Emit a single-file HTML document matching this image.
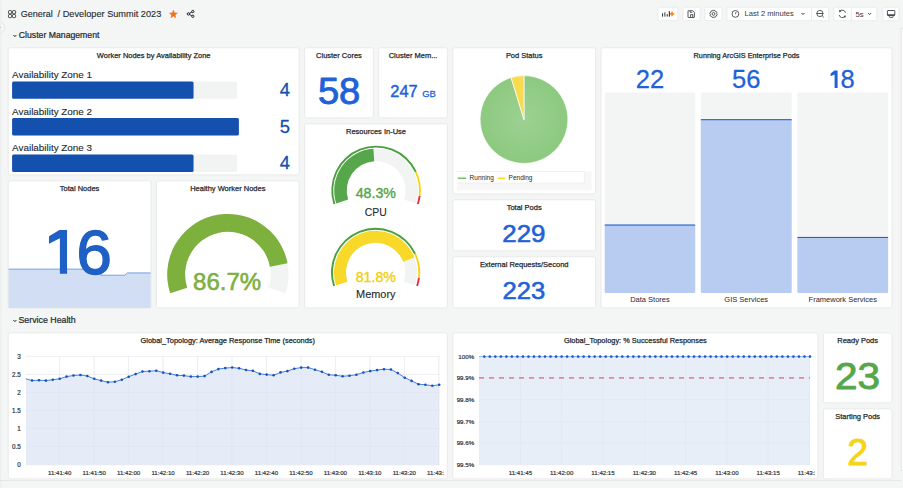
<!DOCTYPE html>
<html><head><meta charset="utf-8"><title>Developer Summit 2023 - Grafana</title>
<style>
html,body{margin:0;padding:0;width:903px;height:488px;overflow:hidden;background:#F4F5F5;}
svg{display:block;font-family:"Liberation Sans", sans-serif;}
</style></head>
<body>
<svg width="903" height="488" viewBox="0 0 903 488">
<rect x="0" y="0" width="903" height="488" fill="#F4F5F5"/>
<circle cx="-1.2" cy="27.3" r="5.8" fill="#F7F8F8" stroke="#DADDDE" stroke-width="0.7"/>
<line x1="0" y1="27.3" x2="1.2" y2="27.3" stroke="#464C54" stroke-width="0.8"/>
<line x1="0.8" y1="0" x2="0.8" y2="488" stroke="#ECEEEE" stroke-width="1"/>
<rect x="8.5" y="10.6" width="3.1" height="3.1" rx="0.9" fill="none" stroke="#33383D" stroke-width="1.0"/>
<rect x="12.5" y="10.6" width="3.1" height="3.1" rx="0.9" fill="none" stroke="#33383D" stroke-width="1.0"/>
<rect x="8.5" y="14.5" width="3.1" height="3.1" rx="0.9" fill="none" stroke="#33383D" stroke-width="1.0"/>
<rect x="12.5" y="14.5" width="3.1" height="3.1" rx="0.9" fill="none" stroke="#33383D" stroke-width="1.0"/>
<text x="20.80" y="17.00" font-size="9" font-weight="400" fill="#24292E" text-anchor="start" stroke="#24292E" stroke-width="0.12" stroke-linejoin="round" >General</text>
<text x="57.60" y="17.00" font-size="9.2" font-weight="400" fill="#24292E" text-anchor="start" stroke="#24292E" stroke-width="0.12" stroke-linejoin="round" >/ Developer Summit 2023</text>
<polygon points="173.40,10.25 174.43,12.93 177.30,13.08 175.06,14.89 175.81,17.67 173.40,16.10 170.99,17.67 171.74,14.89 169.50,13.08 172.37,12.93" fill="#F27318" stroke="#F27318" stroke-width="0.6" stroke-linejoin="round"/>
<g fill="none" stroke="#1F2328" stroke-width="1.0"><circle cx="188.4" cy="13.9" r="1.2"/><circle cx="192.8" cy="11.5" r="1.15"/><circle cx="192.8" cy="16.3" r="1.15"/><line x1="189.5" y1="13.3" x2="191.8" y2="12.1"/><line x1="189.5" y1="14.5" x2="191.8" y2="15.7"/></g>
<rect x="658.00" y="7.20" width="19.80" height="13.50" rx="1.5" fill="#FFFFFF" stroke="#E6E8E9" stroke-width="0.8"/>
<rect x="683.00" y="7.20" width="17.10" height="13.50" rx="1.5" fill="#FFFFFF" stroke="#E6E8E9" stroke-width="0.8"/>
<rect x="705.00" y="7.20" width="17.00" height="13.50" rx="1.5" fill="#FFFFFF" stroke="#E6E8E9" stroke-width="0.8"/>
<rect x="726.90" y="7.20" width="101.70" height="13.50" rx="1.5" fill="#FFFFFF" stroke="#E6E8E9" stroke-width="0.8"/>
<line x1="811.5" y1="7.2" x2="811.5" y2="20.7" stroke="#E6E8E9" stroke-width="0.8"/>
<rect x="833.90" y="7.20" width="42.90" height="13.50" rx="1.5" fill="#FFFFFF" stroke="#E6E8E9" stroke-width="0.8"/>
<line x1="851.4" y1="7.2" x2="851.4" y2="20.7" stroke="#E6E8E9" stroke-width="0.8"/>
<rect x="882.80" y="7.20" width="16.10" height="13.50" rx="1.5" fill="#FFFFFF" stroke="#E6E8E9" stroke-width="0.8"/>
<g fill="#3A3F45"><rect x="662.0" y="13.2" width="1.1" height="3.5" rx="0.4"/><rect x="664.2" y="12.2" width="1.3" height="4.5" rx="0.4" opacity="0.8"/><rect x="666.7" y="14.1" width="1.1" height="2.6" rx="0.4"/><rect x="668.8" y="11.0" width="1.2" height="5.7" rx="0.4"/></g>
<g stroke="#FF8A1E" stroke-width="1.7" stroke-linecap="round"><line x1="670.6" y1="13.9" x2="673.5" y2="13.9"/><line x1="672.05" y1="12.3" x2="672.05" y2="15.5"/></g>
<g fill="none" stroke="#3A3F45" stroke-width="0.85"><path d="M688.4,10.7 h4.4 l1.6,1.6 v4.8 q0,0.4 -0.4,0.4 h-5.6 q-0.4,0 -0.4,-0.4 v-6 q0,-0.4 0.4,-0.4 z"/><path d="M690.6,17.4 v-2.8 h2.2 v2.8"/><path d="M690.2,11 v1.3 h2.1"/></g>
<polygon points="717.17,14.38 716.92,15.32 715.96,15.79 715.75,16.84 714.92,17.32 713.90,16.97 713.02,17.57 712.08,17.32 711.61,16.36 710.56,16.15 710.08,15.32 710.43,14.30 709.83,13.42 710.08,12.48 711.04,12.01 711.25,10.96 712.08,10.48 713.10,10.83 713.98,10.23 714.92,10.48 715.39,11.44 716.44,11.65 716.92,12.48 716.57,13.50" fill="none" stroke="#3A3F45" stroke-width="0.85" stroke-linejoin="round"/>
<circle cx="713.5" cy="13.9" r="1.4" fill="none" stroke="#3A3F45" stroke-width="0.85"/>
<g fill="none" stroke="#3A3F45" stroke-width="0.85"><circle cx="735.4" cy="13.9" r="3.4"/><line x1="735.4" y1="14.2" x2="736.1" y2="12.0"/></g>
<text x="744.50" y="16.45" font-size="7.6" font-weight="400" fill="#3D4248" text-anchor="start" stroke="#3D4248" stroke-width="0.05" stroke-linejoin="round" >Last 2 minutes</text>
<path d="M801.5,13.0 l1.5,1.5 l1.5,-1.5" fill="none" stroke="#3A3F45" stroke-width="1.0"/>
<g fill="none" stroke="#3A3F45" stroke-width="0.85"><circle cx="819.9" cy="13.5" r="3.1"/><line x1="816.6" y1="13.5" x2="823.2" y2="13.5"/><line x1="822.2" y1="15.8" x2="823.8" y2="17.4"/></g>
<g fill="none" stroke="#3A3F45" stroke-width="0.85"><path d="M839.6,11.2 a3.5,3.5 0 0 1 5.9,1.6"/><path d="M845.0,16.6 a3.5,3.5 0 0 1 -5.9,-1.6"/></g>
<g fill="#3A3F45"><path d="M839.0,10.0 l2.4,0.9 l-1.9,1.6 z"/><path d="M845.8,17.6 l-2.4,-0.9 l1.9,-1.6 z"/></g>
<text x="855.50" y="16.60" font-size="7.7" font-weight="400" fill="#3D4248" text-anchor="start" stroke="#3D4248" stroke-width="0.05" stroke-linejoin="round" >5s</text>
<path d="M868.1,13.1 l1.5,1.5 l1.5,-1.5" fill="none" stroke="#3A3F45" stroke-width="1.0"/>
<g fill="none" stroke="#3A3F45" stroke-width="0.9"><rect x="887.4" y="10.5" width="7.4" height="5.0" rx="0.6"/><path d="M889.3,15.6 v0.9 q0,0.9 0.9,0.9 h2.0 q0.9,0 0.9,-0.9 v-0.9"/></g>
<rect x="887.4" y="14.3" width="7.4" height="1.2" fill="#3A3F45"/>
<rect x="901.2" y="28.3" width="3" height="442" fill="#FFFFFF" stroke="#E0E2E3" stroke-width="0.9"/>
<line x1="0" y1="480.5" x2="901" y2="480.5" stroke="#E3E5E6" stroke-width="0.9"/>
<path d="M13.4,35.0 l1.5,1.6 l1.5,-1.6" fill="none" stroke="#24292E" stroke-width="1.0"/>
<text x="18.80" y="37.70" font-size="8.7" font-weight="400" fill="#24292E" text-anchor="start" stroke="#24292E" stroke-width="0.22" stroke-linejoin="round" >Cluster Management</text>
<path d="M13.4,320.0 l1.5,1.6 l1.5,-1.6" fill="none" stroke="#24292E" stroke-width="1.0"/>
<text x="18.50" y="322.70" font-size="8.8" font-weight="400" fill="#24292E" text-anchor="start" stroke="#24292E" stroke-width="0.22" stroke-linejoin="round" >Service Health</text>
<rect x="8.20" y="47.80" width="291.00" height="127.10" rx="2" fill="#FFFFFF" stroke="#E6E8E9" stroke-width="0.9"/>
<text x="153.70" y="58.00" font-size="7.49" font-weight="400" fill="#24292E" text-anchor="middle" stroke="#24292E" stroke-width="0.25" stroke-linejoin="round" >Worker Nodes by Availability Zone</text>
<text x="12.10" y="78.00" font-size="9.9" font-weight="400" fill="#24292E" text-anchor="start" stroke="#24292E" stroke-width="0.12" stroke-linejoin="round" >Availability Zone 1</text>
<rect x="12.1" y="81.40" width="225.0" height="17.4" rx="1.5" fill="#F2F3F3"/>
<rect x="12.1" y="81.40" width="181.44" height="17.4" rx="1.5" fill="#1450AE"/>
<text x="289.90" y="96.00" font-size="18.4" font-weight="400" fill="#1450AE" text-anchor="end" stroke="#1450AE" stroke-width="0.3" stroke-linejoin="round" >4</text>
<text x="12.10" y="114.60" font-size="9.9" font-weight="400" fill="#24292E" text-anchor="start" stroke="#24292E" stroke-width="0.12" stroke-linejoin="round" >Availability Zone 2</text>
<rect x="12.1" y="118.00" width="225.0" height="17.4" rx="1.5" fill="#F2F3F3"/>
<rect x="12.1" y="118.00" width="226.80" height="17.4" rx="1.5" fill="#1450AE"/>
<text x="289.90" y="132.60" font-size="18.4" font-weight="400" fill="#1450AE" text-anchor="end" stroke="#1450AE" stroke-width="0.3" stroke-linejoin="round" >5</text>
<text x="12.10" y="151.20" font-size="9.9" font-weight="400" fill="#24292E" text-anchor="start" stroke="#24292E" stroke-width="0.12" stroke-linejoin="round" >Availability Zone 3</text>
<rect x="12.1" y="154.60" width="225.0" height="17.4" rx="1.5" fill="#F2F3F3"/>
<rect x="12.1" y="154.60" width="181.44" height="17.4" rx="1.5" fill="#1450AE"/>
<text x="289.90" y="169.20" font-size="18.4" font-weight="400" fill="#1450AE" text-anchor="end" stroke="#1450AE" stroke-width="0.3" stroke-linejoin="round" >4</text>
<rect x="304.60" y="47.80" width="68.70" height="70.10" rx="2" fill="#FFFFFF" stroke="#E6E8E9" stroke-width="0.9"/>
<text x="338.95" y="58.00" font-size="7.49" font-weight="400" fill="#24292E" text-anchor="middle" stroke="#24292E" stroke-width="0.25" stroke-linejoin="round" >Cluster Cores</text>
<g transform="translate(339.10,104.00) scale(1.06,1)"><text x="0" y="0" font-size="36.0" font-weight="400" fill="#1F62D8" text-anchor="middle" stroke="#1F62D8" stroke-width="0.9" stroke-linejoin="round" >58</text></g>
<rect x="378.70" y="47.80" width="68.70" height="70.10" rx="2" fill="#FFFFFF" stroke="#E6E8E9" stroke-width="0.9"/>
<text x="413.05" y="58.00" font-size="7.49" font-weight="400" fill="#24292E" text-anchor="middle" stroke="#24292E" stroke-width="0.25" stroke-linejoin="round" >Cluster Mem...</text>
<text x="390.30" y="96.50" font-size="16.4" font-weight="400" fill="#1F62D8" text-anchor="start" stroke="#1F62D8" stroke-width="0.45" stroke-linejoin="round" >247</text>
<text x="422.20" y="96.50" font-size="9.4" font-weight="400" fill="#1F62D8" text-anchor="start" stroke="#1F62D8" stroke-width="0.3" stroke-linejoin="round" >GB</text>
<rect x="452.80" y="47.80" width="142.80" height="146.10" rx="2" fill="#FFFFFF" stroke="#E6E8E9" stroke-width="0.9"/>
<text x="524.20" y="58.00" font-size="7.49" font-weight="400" fill="#24292E" text-anchor="middle" stroke="#24292E" stroke-width="0.25" stroke-linejoin="round" >Pod Status</text>
<defs><radialGradient id="pg" cx="50%" cy="50%" r="50%"><stop offset="0" stop-color="#9DD192"/><stop offset="1" stop-color="#8DC97F"/></radialGradient><radialGradient id="py" cx="50%" cy="50%" r="50%"><stop offset="0" stop-color="#FBE05A"/><stop offset="1" stop-color="#F8DA4A"/></radialGradient></defs>
<path d="M524.0,119.5 L524.0,75.6 A43.9,43.9 0 1 1 511.09,77.54 Z" fill="url(#pg)" stroke="#fff" stroke-width="0.7"/>
<path d="M524.0,119.5 L511.09,77.54 A43.9,43.9 0 0 1 524.0,75.6 Z" fill="#F8DB4E" stroke="#fff" stroke-width="0.7"/>
<rect x="456.8" y="183.1" width="134.8" height="7.2" fill="#F7F7F8"/>
<rect x="584.4" y="171.5" width="7.2" height="11.6" fill="#F7F7F8"/>
<path d="M456.8,171.5 H584.4 V183.1 H456.8" fill="none" stroke="#ECEDEE" stroke-width="0.8"/>
<line x1="458.4" y1="178.3" x2="465.6" y2="178.3" stroke="#73BF69" stroke-width="1.6" stroke-linecap="round"/>
<text x="469.60" y="180.40" font-size="6.5" font-weight="400" fill="#24292E" text-anchor="start" >Running</text>
<line x1="498.3" y1="178.3" x2="504.6" y2="178.3" stroke="#FADE2A" stroke-width="1.6" stroke-linecap="round"/>
<text x="508.60" y="180.40" font-size="6.5" font-weight="400" fill="#24292E" text-anchor="start" >Pending</text>
<rect x="601.00" y="47.80" width="291.00" height="260.10" rx="2" fill="#FFFFFF" stroke="#E6E8E9" stroke-width="0.9"/>
<text x="746.50" y="58.00" font-size="7.276" font-weight="400" fill="#24292E" text-anchor="middle" stroke="#24292E" stroke-width="0.25" stroke-linejoin="round" >Running ArcGIS Enterprise Pods</text>
<rect x="604.7" y="92.5" width="90.5" height="200.5" rx="1.5" fill="#F3F4F4"/>
<rect x="604.7" y="224.82" width="90.5" height="68.18" rx="1" fill="#B8CCF2"/>
<rect x="604.7" y="224.52" width="90.5" height="1.05" fill="#1A5CD0"/>
<text x="649.95" y="88.30" font-size="25.5" font-weight="400" fill="#1F62D8" text-anchor="middle" stroke="#1F62D8" stroke-width="0.3" stroke-linejoin="round" >22</text>
<text x="649.95" y="301.60" font-size="7.5" font-weight="400" fill="#24292E" text-anchor="middle" >Data Stores</text>
<rect x="700.8" y="92.5" width="90.9" height="200.5" rx="1.5" fill="#F3F4F4"/>
<rect x="700.8" y="119.46" width="90.9" height="173.54" rx="1" fill="#B8CCF2"/>
<rect x="700.8" y="119.16" width="90.9" height="1.05" fill="#1A5CD0"/>
<text x="746.25" y="88.30" font-size="25.5" font-weight="400" fill="#1F62D8" text-anchor="middle" stroke="#1F62D8" stroke-width="0.3" stroke-linejoin="round" >56</text>
<text x="746.25" y="301.60" font-size="7.5" font-weight="400" fill="#24292E" text-anchor="middle" >GIS Services</text>
<rect x="797.4" y="92.5" width="90.7" height="200.5" rx="1.5" fill="#F3F4F4"/>
<rect x="797.4" y="237.22" width="90.7" height="55.78" rx="1" fill="#B8CCF2"/>
<rect x="797.4" y="236.92" width="90.7" height="1.05" fill="#1A5CD0"/>
<polygon points="834.4,70.4 837.6,70.4 837.6,88.1 834.6,88.1 834.6,74.4 830.6,76.3 830.6,73.5" fill="#1F62D8"/>
<text x="840.60" y="88.30" font-size="25.5" font-weight="400" fill="#1F62D8" text-anchor="start" stroke="#1F62D8" stroke-width="0.3" stroke-linejoin="round" >8</text>
<text x="842.75" y="301.60" font-size="7.5" font-weight="400" fill="#24292E" text-anchor="middle" >Framework Services</text>
<rect x="304.60" y="123.80" width="142.80" height="184.10" rx="2" fill="#FFFFFF" stroke="#E6E8E9" stroke-width="0.9"/>
<text x="376.00" y="134.00" font-size="7.49" font-weight="400" fill="#24292E" text-anchor="middle" stroke="#24292E" stroke-width="0.25" stroke-linejoin="round" >Resources In-Use</text>
<path d="M336.25,203.45 A41.9,41.9 0 1 1 415.95,203.45 L404.06,199.59 A29.4,29.4 0 1 0 348.14,199.59 Z" fill="#F2F3F3"/>
<path d="M336.25,203.45 A41.9,41.9 0 0 1 373.42,148.69 L374.22,161.16 A29.4,29.4 0 0 0 348.14,199.59 Z" fill="#56A64B"/>
<path d="M333.49,204.34 A44.8,44.8 0 0 1 416.64,171.43 L414.92,172.23 A42.9,42.9 0 0 0 335.30,203.76 Z" fill="#48A03C"/>
<path d="M416.64,171.43 A44.8,44.8 0 0 1 420.55,196.11 L418.66,195.88 A42.9,42.9 0 0 0 414.92,172.23 Z" fill="#F6D414"/>
<path d="M420.55,196.11 A44.8,44.8 0 0 1 418.71,204.34 L416.90,203.76 A42.9,42.9 0 0 0 418.66,195.88 Z" fill="#E02F44"/>
<text x="375.80" y="198.40" font-size="14.2" font-weight="400" fill="#56A64B" text-anchor="middle" stroke="#56A64B" stroke-width="0.4" stroke-linejoin="round" >48.3%</text>
<text x="375.80" y="215.50" font-size="10.4" font-weight="400" fill="#24292E" text-anchor="middle" stroke="#24292E" stroke-width="0.12" stroke-linejoin="round" >CPU</text>
<path d="M336.04,285.36 A41.6,41.6 0 1 1 415.16,285.36 L403.75,281.65 A29.6,29.6 0 1 0 347.45,281.65 Z" fill="#F2F3F3"/>
<path d="M336.04,285.36 A41.6,41.6 0 0 1 414.36,257.38 L403.18,261.74 A29.6,29.6 0 0 0 347.45,281.65 Z" fill="#F8D92A"/>
<path d="M333.18,286.28 A44.6,44.6 0 0 1 415.96,253.51 L414.24,254.32 A42.7,42.7 0 0 0 334.99,285.70 Z" fill="#48A03C"/>
<path d="M415.96,253.51 A44.6,44.6 0 0 1 419.85,278.09 L417.96,277.85 A42.7,42.7 0 0 0 414.24,254.32 Z" fill="#F6D414"/>
<path d="M419.85,278.09 A44.6,44.6 0 0 1 418.02,286.28 L416.21,285.70 A42.7,42.7 0 0 0 417.96,277.85 Z" fill="#E02F44"/>
<text x="375.80" y="281.50" font-size="14.2" font-weight="400" fill="#F4CF0A" text-anchor="middle" stroke="#F4CF0A" stroke-width="0.4" stroke-linejoin="round" >81.8%</text>
<g transform="translate(375.80,298.10) scale(1.04,1)"><text x="0" y="0" font-size="10.5" font-weight="400" fill="#24292E" text-anchor="middle" stroke="#24292E" stroke-width="0.12" stroke-linejoin="round" >Memory</text></g>
<rect x="8.20" y="180.80" width="142.80" height="127.10" rx="2" fill="#FFFFFF" stroke="#E6E8E9" stroke-width="0.9"/>
<text x="79.60" y="191.00" font-size="7.49" font-weight="400" fill="#24292E" text-anchor="middle" stroke="#24292E" stroke-width="0.25" stroke-linejoin="round" >Total Nodes</text>
<path d="M8.60,269.10 L99.00,269.10 L101.00,275.20 L124.90,275.20 L127.30,272.90 L150.60,272.90 L150.60,308.10 L8.60,308.10 Z" fill="#D1DEF3"/>
<path d="M8.60,269.10 L99.00,269.10 L101.00,275.20 L124.90,275.20 L127.30,272.90 L150.60,272.90" fill="none" stroke="#5A8FE0" stroke-width="0.8"/>
<polygon points="59.4,229.9 67.05,229.9 67.05,273.8 59.9,273.8 59.9,238.3 49.0,243.8 49.0,236.2" fill="#1F60C4"/>
<text x="76.40" y="273.80" font-size="63.5" font-weight="400" fill="#1F60C4" text-anchor="start" stroke="#1F60C4" stroke-width="1.5" stroke-linejoin="round" >6</text>
<rect x="156.40" y="180.80" width="142.80" height="127.10" rx="2" fill="#FFFFFF" stroke="#E6E8E9" stroke-width="0.9"/>
<text x="227.80" y="191.00" font-size="7.49" font-weight="400" fill="#24292E" text-anchor="middle" stroke="#24292E" stroke-width="0.25" stroke-linejoin="round" >Healthy Worker Nodes</text>
<path d="M170.17,293.36 A60.7,60.7 0 1 1 285.63,293.36 L268.61,287.83 A42.8,42.8 0 1 0 187.19,287.83 Z" fill="#F2F3F3"/>
<path d="M170.17,293.36 A60.7,60.7 0 1 1 287.54,263.30 L269.95,266.63 A42.8,42.8 0 1 0 187.19,287.83 Z" fill="#7EB03E"/>
<text x="227.10" y="289.50" font-size="24.0" font-weight="400" fill="#7EB03E" text-anchor="middle" stroke="#7EB03E" stroke-width="0.6" stroke-linejoin="round" >86.7%</text>
<rect x="452.80" y="199.80" width="142.80" height="51.10" rx="2" fill="#FFFFFF" stroke="#E6E8E9" stroke-width="0.9"/>
<text x="524.20" y="210.00" font-size="7.49" font-weight="400" fill="#24292E" text-anchor="middle" stroke="#24292E" stroke-width="0.25" stroke-linejoin="round" >Total Pods</text>
<g transform="translate(523.90,242.30) scale(1.07,1)"><text x="0" y="0" font-size="24.2" font-weight="400" fill="#1F62D8" text-anchor="middle" stroke="#1F62D8" stroke-width="0.6" stroke-linejoin="round" >229</text></g>
<rect x="452.80" y="256.80" width="142.80" height="51.10" rx="2" fill="#FFFFFF" stroke="#E6E8E9" stroke-width="0.9"/>
<text x="524.20" y="267.00" font-size="7.49" font-weight="400" fill="#24292E" text-anchor="middle" stroke="#24292E" stroke-width="0.25" stroke-linejoin="round" >External Requests/Second</text>
<g transform="translate(523.90,299.30) scale(1.06,1)"><text x="0" y="0" font-size="24.2" font-weight="400" fill="#1F62D8" text-anchor="middle" stroke="#1F62D8" stroke-width="0.6" stroke-linejoin="round" >223</text></g>
<rect x="8.20" y="332.80" width="439.20" height="146.10" rx="2" fill="#FFFFFF" stroke="#E6E8E9" stroke-width="0.9"/>
<text x="227.80" y="343.00" font-size="7.4151" font-weight="400" fill="#24292E" text-anchor="middle" stroke="#24292E" stroke-width="0.25" stroke-linejoin="round" >Global_Topology: Average Response Time (seconds)</text>
<line x1="25.9" y1="356.30" x2="439.7" y2="356.30" stroke="#F0F1F3" stroke-width="0.7"/>
<text x="20.70" y="358.60" font-size="6.3" font-weight="400" fill="#2A2F34" text-anchor="end" stroke="#2A2F34" stroke-width="0.18" stroke-linejoin="round" >3</text>
<line x1="25.9" y1="374.37" x2="439.7" y2="374.37" stroke="#F0F1F3" stroke-width="0.7"/>
<text x="20.70" y="376.67" font-size="6.3" font-weight="400" fill="#2A2F34" text-anchor="end" stroke="#2A2F34" stroke-width="0.18" stroke-linejoin="round" >2.5</text>
<line x1="25.9" y1="392.43" x2="439.7" y2="392.43" stroke="#F0F1F3" stroke-width="0.7"/>
<text x="20.70" y="394.73" font-size="6.3" font-weight="400" fill="#2A2F34" text-anchor="end" stroke="#2A2F34" stroke-width="0.18" stroke-linejoin="round" >2</text>
<line x1="25.9" y1="410.50" x2="439.7" y2="410.50" stroke="#F0F1F3" stroke-width="0.7"/>
<text x="20.70" y="412.80" font-size="6.3" font-weight="400" fill="#2A2F34" text-anchor="end" stroke="#2A2F34" stroke-width="0.18" stroke-linejoin="round" >1.5</text>
<line x1="25.9" y1="428.57" x2="439.7" y2="428.57" stroke="#F0F1F3" stroke-width="0.7"/>
<text x="20.70" y="430.87" font-size="6.3" font-weight="400" fill="#2A2F34" text-anchor="end" stroke="#2A2F34" stroke-width="0.18" stroke-linejoin="round" >1</text>
<line x1="25.9" y1="446.63" x2="439.7" y2="446.63" stroke="#F0F1F3" stroke-width="0.7"/>
<text x="20.70" y="448.93" font-size="6.3" font-weight="400" fill="#2A2F34" text-anchor="end" stroke="#2A2F34" stroke-width="0.18" stroke-linejoin="round" >0.5</text>
<line x1="25.9" y1="464.70" x2="439.7" y2="464.70" stroke="#F0F1F3" stroke-width="0.7"/>
<text x="20.70" y="467.00" font-size="6.3" font-weight="400" fill="#2A2F34" text-anchor="end" stroke="#2A2F34" stroke-width="0.18" stroke-linejoin="round" >0</text>
<defs><clipPath id="c1"><rect x="8" y="333" width="436" height="150"/></clipPath><clipPath id="c2"><rect x="452" y="333" width="363" height="150"/></clipPath></defs>
<line x1="59.70" y1="356.3" x2="59.70" y2="464.7" stroke="#F0F1F3" stroke-width="0.7"/>
<text x="59.70" y="474.70" font-size="6.1" font-weight="400" fill="#2A2F34" text-anchor="middle" stroke="#2A2F34" stroke-width="0.18" stroke-linejoin="round" clip-path="url(#c1)">11:41:40</text>
<line x1="94.16" y1="356.3" x2="94.16" y2="464.7" stroke="#F0F1F3" stroke-width="0.7"/>
<text x="94.16" y="474.70" font-size="6.1" font-weight="400" fill="#2A2F34" text-anchor="middle" stroke="#2A2F34" stroke-width="0.18" stroke-linejoin="round" clip-path="url(#c1)">11:41:50</text>
<line x1="128.62" y1="356.3" x2="128.62" y2="464.7" stroke="#F0F1F3" stroke-width="0.7"/>
<text x="128.62" y="474.70" font-size="6.1" font-weight="400" fill="#2A2F34" text-anchor="middle" stroke="#2A2F34" stroke-width="0.18" stroke-linejoin="round" clip-path="url(#c1)">11:42:00</text>
<line x1="163.08" y1="356.3" x2="163.08" y2="464.7" stroke="#F0F1F3" stroke-width="0.7"/>
<text x="163.08" y="474.70" font-size="6.1" font-weight="400" fill="#2A2F34" text-anchor="middle" stroke="#2A2F34" stroke-width="0.18" stroke-linejoin="round" clip-path="url(#c1)">11:42:10</text>
<line x1="197.54" y1="356.3" x2="197.54" y2="464.7" stroke="#F0F1F3" stroke-width="0.7"/>
<text x="197.54" y="474.70" font-size="6.1" font-weight="400" fill="#2A2F34" text-anchor="middle" stroke="#2A2F34" stroke-width="0.18" stroke-linejoin="round" clip-path="url(#c1)">11:42:20</text>
<line x1="232.00" y1="356.3" x2="232.00" y2="464.7" stroke="#F0F1F3" stroke-width="0.7"/>
<text x="232.00" y="474.70" font-size="6.1" font-weight="400" fill="#2A2F34" text-anchor="middle" stroke="#2A2F34" stroke-width="0.18" stroke-linejoin="round" clip-path="url(#c1)">11:42:30</text>
<line x1="266.46" y1="356.3" x2="266.46" y2="464.7" stroke="#F0F1F3" stroke-width="0.7"/>
<text x="266.46" y="474.70" font-size="6.1" font-weight="400" fill="#2A2F34" text-anchor="middle" stroke="#2A2F34" stroke-width="0.18" stroke-linejoin="round" clip-path="url(#c1)">11:42:40</text>
<line x1="300.92" y1="356.3" x2="300.92" y2="464.7" stroke="#F0F1F3" stroke-width="0.7"/>
<text x="300.92" y="474.70" font-size="6.1" font-weight="400" fill="#2A2F34" text-anchor="middle" stroke="#2A2F34" stroke-width="0.18" stroke-linejoin="round" clip-path="url(#c1)">11:42:50</text>
<line x1="335.38" y1="356.3" x2="335.38" y2="464.7" stroke="#F0F1F3" stroke-width="0.7"/>
<text x="335.38" y="474.70" font-size="6.1" font-weight="400" fill="#2A2F34" text-anchor="middle" stroke="#2A2F34" stroke-width="0.18" stroke-linejoin="round" clip-path="url(#c1)">11:43:00</text>
<line x1="369.84" y1="356.3" x2="369.84" y2="464.7" stroke="#F0F1F3" stroke-width="0.7"/>
<text x="369.84" y="474.70" font-size="6.1" font-weight="400" fill="#2A2F34" text-anchor="middle" stroke="#2A2F34" stroke-width="0.18" stroke-linejoin="round" clip-path="url(#c1)">11:43:10</text>
<line x1="404.30" y1="356.3" x2="404.30" y2="464.7" stroke="#F0F1F3" stroke-width="0.7"/>
<text x="404.30" y="474.70" font-size="6.1" font-weight="400" fill="#2A2F34" text-anchor="middle" stroke="#2A2F34" stroke-width="0.18" stroke-linejoin="round" clip-path="url(#c1)">11:43:20</text>
<line x1="438.76" y1="356.3" x2="438.76" y2="464.7" stroke="#F0F1F3" stroke-width="0.7"/>
<text x="438.76" y="474.70" font-size="6.1" font-weight="400" fill="#2A2F34" text-anchor="middle" stroke="#2A2F34" stroke-width="0.18" stroke-linejoin="round" clip-path="url(#c1)">11:43:30</text>
<path d="M25.90,378.90 L32.10,380.50 L39.00,380.20 L45.90,380.60 L52.80,379.70 L59.70,378.80 L66.60,376.60 L73.50,375.50 L80.40,375.00 L87.30,376.00 L94.20,378.80 L101.10,380.60 L108.00,382.20 L114.90,381.70 L121.80,379.70 L128.70,376.70 L135.60,374.10 L142.50,371.50 L149.40,371.20 L156.30,370.70 L163.20,372.60 L170.10,373.80 L177.00,375.30 L183.90,375.60 L190.80,376.60 L197.70,376.60 L204.60,376.10 L211.50,371.90 L218.40,369.10 L225.30,368.10 L232.20,367.50 L239.10,368.30 L246.00,370.00 L252.90,370.80 L259.80,373.90 L266.70,374.60 L273.60,375.30 L280.50,372.40 L287.40,371.10 L294.30,368.70 L301.20,367.60 L308.10,367.60 L315.00,369.70 L321.90,371.80 L328.80,374.80 L335.70,375.20 L342.60,376.30 L349.50,375.70 L356.40,374.70 L363.30,372.50 L370.20,371.10 L377.10,370.10 L384.00,369.20 L390.90,369.50 L397.80,373.10 L404.70,377.70 L411.60,380.90 L418.50,384.20 L425.40,384.80 L432.30,385.70 L439.20,384.80 L439.20,464.7 L25.9,464.7 Z" fill="#E6ECF7"/>
<line x1="25.9" y1="356.30" x2="439.7" y2="356.30" stroke="#DCE2EC" stroke-width="0.6" opacity="0.6"/>
<line x1="25.9" y1="374.37" x2="439.7" y2="374.37" stroke="#DCE2EC" stroke-width="0.6" opacity="0.6"/>
<line x1="25.9" y1="392.43" x2="439.7" y2="392.43" stroke="#DCE2EC" stroke-width="0.6" opacity="0.6"/>
<line x1="25.9" y1="410.50" x2="439.7" y2="410.50" stroke="#DCE2EC" stroke-width="0.6" opacity="0.6"/>
<line x1="25.9" y1="428.57" x2="439.7" y2="428.57" stroke="#DCE2EC" stroke-width="0.6" opacity="0.6"/>
<line x1="25.9" y1="446.63" x2="439.7" y2="446.63" stroke="#DCE2EC" stroke-width="0.6" opacity="0.6"/>
<line x1="25.9" y1="464.70" x2="439.7" y2="464.70" stroke="#DCE2EC" stroke-width="0.6" opacity="0.6"/>
<line x1="59.70" y1="356.3" x2="59.70" y2="464.7" stroke="#DCE2EC" stroke-width="0.6" opacity="0.6"/>
<line x1="94.16" y1="356.3" x2="94.16" y2="464.7" stroke="#DCE2EC" stroke-width="0.6" opacity="0.6"/>
<line x1="128.62" y1="356.3" x2="128.62" y2="464.7" stroke="#DCE2EC" stroke-width="0.6" opacity="0.6"/>
<line x1="163.08" y1="356.3" x2="163.08" y2="464.7" stroke="#DCE2EC" stroke-width="0.6" opacity="0.6"/>
<line x1="197.54" y1="356.3" x2="197.54" y2="464.7" stroke="#DCE2EC" stroke-width="0.6" opacity="0.6"/>
<line x1="232.00" y1="356.3" x2="232.00" y2="464.7" stroke="#DCE2EC" stroke-width="0.6" opacity="0.6"/>
<line x1="266.46" y1="356.3" x2="266.46" y2="464.7" stroke="#DCE2EC" stroke-width="0.6" opacity="0.6"/>
<line x1="300.92" y1="356.3" x2="300.92" y2="464.7" stroke="#DCE2EC" stroke-width="0.6" opacity="0.6"/>
<line x1="335.38" y1="356.3" x2="335.38" y2="464.7" stroke="#DCE2EC" stroke-width="0.6" opacity="0.6"/>
<line x1="369.84" y1="356.3" x2="369.84" y2="464.7" stroke="#DCE2EC" stroke-width="0.6" opacity="0.6"/>
<line x1="404.30" y1="356.3" x2="404.30" y2="464.7" stroke="#DCE2EC" stroke-width="0.6" opacity="0.6"/>
<line x1="438.76" y1="356.3" x2="438.76" y2="464.7" stroke="#DCE2EC" stroke-width="0.6" opacity="0.6"/>
<path d="M25.90,378.90 L32.10,380.50 L39.00,380.20 L45.90,380.60 L52.80,379.70 L59.70,378.80 L66.60,376.60 L73.50,375.50 L80.40,375.00 L87.30,376.00 L94.20,378.80 L101.10,380.60 L108.00,382.20 L114.90,381.70 L121.80,379.70 L128.70,376.70 L135.60,374.10 L142.50,371.50 L149.40,371.20 L156.30,370.70 L163.20,372.60 L170.10,373.80 L177.00,375.30 L183.90,375.60 L190.80,376.60 L197.70,376.60 L204.60,376.10 L211.50,371.90 L218.40,369.10 L225.30,368.10 L232.20,367.50 L239.10,368.30 L246.00,370.00 L252.90,370.80 L259.80,373.90 L266.70,374.60 L273.60,375.30 L280.50,372.40 L287.40,371.10 L294.30,368.70 L301.20,367.60 L308.10,367.60 L315.00,369.70 L321.90,371.80 L328.80,374.80 L335.70,375.20 L342.60,376.30 L349.50,375.70 L356.40,374.70 L363.30,372.50 L370.20,371.10 L377.10,370.10 L384.00,369.20 L390.90,369.50 L397.80,373.10 L404.70,377.70 L411.60,380.90 L418.50,384.20 L425.40,384.80 L432.30,385.70 L439.20,384.80" fill="none" stroke="#2462C8" stroke-width="0.8"/>
<circle cx="32.10" cy="380.50" r="1.3" fill="#0F52C6"/>
<circle cx="39.00" cy="380.20" r="1.3" fill="#0F52C6"/>
<circle cx="45.90" cy="380.60" r="1.3" fill="#0F52C6"/>
<circle cx="52.80" cy="379.70" r="1.3" fill="#0F52C6"/>
<circle cx="59.70" cy="378.80" r="1.3" fill="#0F52C6"/>
<circle cx="66.60" cy="376.60" r="1.3" fill="#0F52C6"/>
<circle cx="73.50" cy="375.50" r="1.3" fill="#0F52C6"/>
<circle cx="80.40" cy="375.00" r="1.3" fill="#0F52C6"/>
<circle cx="87.30" cy="376.00" r="1.3" fill="#0F52C6"/>
<circle cx="94.20" cy="378.80" r="1.3" fill="#0F52C6"/>
<circle cx="101.10" cy="380.60" r="1.3" fill="#0F52C6"/>
<circle cx="108.00" cy="382.20" r="1.3" fill="#0F52C6"/>
<circle cx="114.90" cy="381.70" r="1.3" fill="#0F52C6"/>
<circle cx="121.80" cy="379.70" r="1.3" fill="#0F52C6"/>
<circle cx="128.70" cy="376.70" r="1.3" fill="#0F52C6"/>
<circle cx="135.60" cy="374.10" r="1.3" fill="#0F52C6"/>
<circle cx="142.50" cy="371.50" r="1.3" fill="#0F52C6"/>
<circle cx="149.40" cy="371.20" r="1.3" fill="#0F52C6"/>
<circle cx="156.30" cy="370.70" r="1.3" fill="#0F52C6"/>
<circle cx="163.20" cy="372.60" r="1.3" fill="#0F52C6"/>
<circle cx="170.10" cy="373.80" r="1.3" fill="#0F52C6"/>
<circle cx="177.00" cy="375.30" r="1.3" fill="#0F52C6"/>
<circle cx="183.90" cy="375.60" r="1.3" fill="#0F52C6"/>
<circle cx="190.80" cy="376.60" r="1.3" fill="#0F52C6"/>
<circle cx="197.70" cy="376.60" r="1.3" fill="#0F52C6"/>
<circle cx="204.60" cy="376.10" r="1.3" fill="#0F52C6"/>
<circle cx="211.50" cy="371.90" r="1.3" fill="#0F52C6"/>
<circle cx="218.40" cy="369.10" r="1.3" fill="#0F52C6"/>
<circle cx="225.30" cy="368.10" r="1.3" fill="#0F52C6"/>
<circle cx="232.20" cy="367.50" r="1.3" fill="#0F52C6"/>
<circle cx="239.10" cy="368.30" r="1.3" fill="#0F52C6"/>
<circle cx="246.00" cy="370.00" r="1.3" fill="#0F52C6"/>
<circle cx="252.90" cy="370.80" r="1.3" fill="#0F52C6"/>
<circle cx="259.80" cy="373.90" r="1.3" fill="#0F52C6"/>
<circle cx="266.70" cy="374.60" r="1.3" fill="#0F52C6"/>
<circle cx="273.60" cy="375.30" r="1.3" fill="#0F52C6"/>
<circle cx="280.50" cy="372.40" r="1.3" fill="#0F52C6"/>
<circle cx="287.40" cy="371.10" r="1.3" fill="#0F52C6"/>
<circle cx="294.30" cy="368.70" r="1.3" fill="#0F52C6"/>
<circle cx="301.20" cy="367.60" r="1.3" fill="#0F52C6"/>
<circle cx="308.10" cy="367.60" r="1.3" fill="#0F52C6"/>
<circle cx="315.00" cy="369.70" r="1.3" fill="#0F52C6"/>
<circle cx="321.90" cy="371.80" r="1.3" fill="#0F52C6"/>
<circle cx="328.80" cy="374.80" r="1.3" fill="#0F52C6"/>
<circle cx="335.70" cy="375.20" r="1.3" fill="#0F52C6"/>
<circle cx="342.60" cy="376.30" r="1.3" fill="#0F52C6"/>
<circle cx="349.50" cy="375.70" r="1.3" fill="#0F52C6"/>
<circle cx="356.40" cy="374.70" r="1.3" fill="#0F52C6"/>
<circle cx="363.30" cy="372.50" r="1.3" fill="#0F52C6"/>
<circle cx="370.20" cy="371.10" r="1.3" fill="#0F52C6"/>
<circle cx="377.10" cy="370.10" r="1.3" fill="#0F52C6"/>
<circle cx="384.00" cy="369.20" r="1.3" fill="#0F52C6"/>
<circle cx="390.90" cy="369.50" r="1.3" fill="#0F52C6"/>
<circle cx="397.80" cy="373.10" r="1.3" fill="#0F52C6"/>
<circle cx="404.70" cy="377.70" r="1.3" fill="#0F52C6"/>
<circle cx="411.60" cy="380.90" r="1.3" fill="#0F52C6"/>
<circle cx="418.50" cy="384.20" r="1.3" fill="#0F52C6"/>
<circle cx="425.40" cy="384.80" r="1.3" fill="#0F52C6"/>
<circle cx="432.30" cy="385.70" r="1.3" fill="#0F52C6"/>
<circle cx="439.20" cy="384.80" r="1.3" fill="#0F52C6"/>
<rect x="452.80" y="332.80" width="365.10" height="146.10" rx="2" fill="#FFFFFF" stroke="#E6E8E9" stroke-width="0.9"/>
<text x="635.35" y="343.00" font-size="7.4151" font-weight="400" fill="#24292E" text-anchor="middle" stroke="#24292E" stroke-width="0.25" stroke-linejoin="round" >Global_Topology: % Successful Responses</text>
<rect x="479.0" y="356.5" width="331.0" height="108.2" fill="#E8EEF8"/>
<line x1="479.0" y1="356.30" x2="810.0" y2="356.30" stroke="#DCE2EC" stroke-width="0.6" opacity="0.7"/>
<text x="474.20" y="358.60" font-size="6.2" font-weight="400" fill="#2A2F34" text-anchor="end" stroke="#2A2F34" stroke-width="0.18" stroke-linejoin="round" >100%</text>
<line x1="479.0" y1="377.98" x2="810.0" y2="377.98" stroke="#DCE2EC" stroke-width="0.6" opacity="0.7"/>
<text x="474.20" y="380.28" font-size="6.2" font-weight="400" fill="#2A2F34" text-anchor="end" stroke="#2A2F34" stroke-width="0.18" stroke-linejoin="round" >99.9%</text>
<line x1="479.0" y1="399.66" x2="810.0" y2="399.66" stroke="#DCE2EC" stroke-width="0.6" opacity="0.7"/>
<text x="474.20" y="401.96" font-size="6.2" font-weight="400" fill="#2A2F34" text-anchor="end" stroke="#2A2F34" stroke-width="0.18" stroke-linejoin="round" >99.8%</text>
<line x1="479.0" y1="421.34" x2="810.0" y2="421.34" stroke="#DCE2EC" stroke-width="0.6" opacity="0.7"/>
<text x="474.20" y="423.64" font-size="6.2" font-weight="400" fill="#2A2F34" text-anchor="end" stroke="#2A2F34" stroke-width="0.18" stroke-linejoin="round" >99.7%</text>
<line x1="479.0" y1="443.02" x2="810.0" y2="443.02" stroke="#DCE2EC" stroke-width="0.6" opacity="0.7"/>
<text x="474.20" y="445.32" font-size="6.2" font-weight="400" fill="#2A2F34" text-anchor="end" stroke="#2A2F34" stroke-width="0.18" stroke-linejoin="round" >99.6%</text>
<line x1="479.0" y1="464.70" x2="810.0" y2="464.70" stroke="#DCE2EC" stroke-width="0.6" opacity="0.7"/>
<text x="474.20" y="467.00" font-size="6.2" font-weight="400" fill="#2A2F34" text-anchor="end" stroke="#2A2F34" stroke-width="0.18" stroke-linejoin="round" >99.5%</text>
<line x1="520.40" y1="356.3" x2="520.40" y2="464.7" stroke="#DCE2EC" stroke-width="0.6" opacity="0.7"/>
<text x="520.40" y="474.70" font-size="6.1" font-weight="400" fill="#2A2F34" text-anchor="middle" stroke="#2A2F34" stroke-width="0.18" stroke-linejoin="round" clip-path="url(#c2)">11:41:45</text>
<line x1="561.70" y1="356.3" x2="561.70" y2="464.7" stroke="#DCE2EC" stroke-width="0.6" opacity="0.7"/>
<text x="561.70" y="474.70" font-size="6.1" font-weight="400" fill="#2A2F34" text-anchor="middle" stroke="#2A2F34" stroke-width="0.18" stroke-linejoin="round" clip-path="url(#c2)">11:42:00</text>
<line x1="603.00" y1="356.3" x2="603.00" y2="464.7" stroke="#DCE2EC" stroke-width="0.6" opacity="0.7"/>
<text x="603.00" y="474.70" font-size="6.1" font-weight="400" fill="#2A2F34" text-anchor="middle" stroke="#2A2F34" stroke-width="0.18" stroke-linejoin="round" clip-path="url(#c2)">11:42:15</text>
<line x1="644.30" y1="356.3" x2="644.30" y2="464.7" stroke="#DCE2EC" stroke-width="0.6" opacity="0.7"/>
<text x="644.30" y="474.70" font-size="6.1" font-weight="400" fill="#2A2F34" text-anchor="middle" stroke="#2A2F34" stroke-width="0.18" stroke-linejoin="round" clip-path="url(#c2)">11:42:30</text>
<line x1="685.60" y1="356.3" x2="685.60" y2="464.7" stroke="#DCE2EC" stroke-width="0.6" opacity="0.7"/>
<text x="685.60" y="474.70" font-size="6.1" font-weight="400" fill="#2A2F34" text-anchor="middle" stroke="#2A2F34" stroke-width="0.18" stroke-linejoin="round" clip-path="url(#c2)">11:42:45</text>
<line x1="726.90" y1="356.3" x2="726.90" y2="464.7" stroke="#DCE2EC" stroke-width="0.6" opacity="0.7"/>
<text x="726.90" y="474.70" font-size="6.1" font-weight="400" fill="#2A2F34" text-anchor="middle" stroke="#2A2F34" stroke-width="0.18" stroke-linejoin="round" clip-path="url(#c2)">11:43:00</text>
<line x1="768.20" y1="356.3" x2="768.20" y2="464.7" stroke="#DCE2EC" stroke-width="0.6" opacity="0.7"/>
<text x="768.20" y="474.70" font-size="6.1" font-weight="400" fill="#2A2F34" text-anchor="middle" stroke="#2A2F34" stroke-width="0.18" stroke-linejoin="round" clip-path="url(#c2)">11:43:15</text>
<line x1="809.50" y1="356.3" x2="809.50" y2="464.7" stroke="#DCE2EC" stroke-width="0.6" opacity="0.7"/>
<text x="809.50" y="474.70" font-size="6.1" font-weight="400" fill="#2A2F34" text-anchor="middle" stroke="#2A2F34" stroke-width="0.18" stroke-linejoin="round" clip-path="url(#c2)">11:43:30</text>
<line x1="479.0" y1="377.9" x2="810.0" y2="377.9" stroke="#DA8C99" stroke-width="1.8" stroke-dasharray="5,5"/>
<line x1="479.0" y1="356.6" x2="810.0" y2="356.6" stroke="#5B8FE0" stroke-width="0.6"/>
<circle cx="484.30" cy="356.6" r="1.3" fill="#1558D6"/>
<circle cx="489.82" cy="356.6" r="1.3" fill="#1558D6"/>
<circle cx="495.34" cy="356.6" r="1.3" fill="#1558D6"/>
<circle cx="500.86" cy="356.6" r="1.3" fill="#1558D6"/>
<circle cx="506.38" cy="356.6" r="1.3" fill="#1558D6"/>
<circle cx="511.90" cy="356.6" r="1.3" fill="#1558D6"/>
<circle cx="517.42" cy="356.6" r="1.3" fill="#1558D6"/>
<circle cx="522.94" cy="356.6" r="1.3" fill="#1558D6"/>
<circle cx="528.46" cy="356.6" r="1.3" fill="#1558D6"/>
<circle cx="533.98" cy="356.6" r="1.3" fill="#1558D6"/>
<circle cx="539.50" cy="356.6" r="1.3" fill="#1558D6"/>
<circle cx="545.02" cy="356.6" r="1.3" fill="#1558D6"/>
<circle cx="550.54" cy="356.6" r="1.3" fill="#1558D6"/>
<circle cx="556.06" cy="356.6" r="1.3" fill="#1558D6"/>
<circle cx="561.58" cy="356.6" r="1.3" fill="#1558D6"/>
<circle cx="567.10" cy="356.6" r="1.3" fill="#1558D6"/>
<circle cx="572.62" cy="356.6" r="1.3" fill="#1558D6"/>
<circle cx="578.14" cy="356.6" r="1.3" fill="#1558D6"/>
<circle cx="583.66" cy="356.6" r="1.3" fill="#1558D6"/>
<circle cx="589.18" cy="356.6" r="1.3" fill="#1558D6"/>
<circle cx="594.70" cy="356.6" r="1.3" fill="#1558D6"/>
<circle cx="600.22" cy="356.6" r="1.3" fill="#1558D6"/>
<circle cx="605.74" cy="356.6" r="1.3" fill="#1558D6"/>
<circle cx="611.26" cy="356.6" r="1.3" fill="#1558D6"/>
<circle cx="616.78" cy="356.6" r="1.3" fill="#1558D6"/>
<circle cx="622.30" cy="356.6" r="1.3" fill="#1558D6"/>
<circle cx="627.82" cy="356.6" r="1.3" fill="#1558D6"/>
<circle cx="633.34" cy="356.6" r="1.3" fill="#1558D6"/>
<circle cx="638.86" cy="356.6" r="1.3" fill="#1558D6"/>
<circle cx="644.38" cy="356.6" r="1.3" fill="#1558D6"/>
<circle cx="649.90" cy="356.6" r="1.3" fill="#1558D6"/>
<circle cx="655.42" cy="356.6" r="1.3" fill="#1558D6"/>
<circle cx="660.94" cy="356.6" r="1.3" fill="#1558D6"/>
<circle cx="666.46" cy="356.6" r="1.3" fill="#1558D6"/>
<circle cx="671.98" cy="356.6" r="1.3" fill="#1558D6"/>
<circle cx="677.50" cy="356.6" r="1.3" fill="#1558D6"/>
<circle cx="683.02" cy="356.6" r="1.3" fill="#1558D6"/>
<circle cx="688.54" cy="356.6" r="1.3" fill="#1558D6"/>
<circle cx="694.06" cy="356.6" r="1.3" fill="#1558D6"/>
<circle cx="699.58" cy="356.6" r="1.3" fill="#1558D6"/>
<circle cx="705.10" cy="356.6" r="1.3" fill="#1558D6"/>
<circle cx="710.62" cy="356.6" r="1.3" fill="#1558D6"/>
<circle cx="716.14" cy="356.6" r="1.3" fill="#1558D6"/>
<circle cx="721.66" cy="356.6" r="1.3" fill="#1558D6"/>
<circle cx="727.18" cy="356.6" r="1.3" fill="#1558D6"/>
<circle cx="732.70" cy="356.6" r="1.3" fill="#1558D6"/>
<circle cx="738.22" cy="356.6" r="1.3" fill="#1558D6"/>
<circle cx="743.74" cy="356.6" r="1.3" fill="#1558D6"/>
<circle cx="749.26" cy="356.6" r="1.3" fill="#1558D6"/>
<circle cx="754.78" cy="356.6" r="1.3" fill="#1558D6"/>
<circle cx="760.30" cy="356.6" r="1.3" fill="#1558D6"/>
<circle cx="765.82" cy="356.6" r="1.3" fill="#1558D6"/>
<circle cx="771.34" cy="356.6" r="1.3" fill="#1558D6"/>
<circle cx="776.86" cy="356.6" r="1.3" fill="#1558D6"/>
<circle cx="782.38" cy="356.6" r="1.3" fill="#1558D6"/>
<circle cx="787.90" cy="356.6" r="1.3" fill="#1558D6"/>
<circle cx="793.42" cy="356.6" r="1.3" fill="#1558D6"/>
<circle cx="798.94" cy="356.6" r="1.3" fill="#1558D6"/>
<circle cx="804.46" cy="356.6" r="1.3" fill="#1558D6"/>
<circle cx="809.98" cy="356.6" r="1.3" fill="#1558D6"/>
<rect x="823.30" y="332.80" width="68.70" height="70.10" rx="2" fill="#FFFFFF" stroke="#E6E8E9" stroke-width="0.9"/>
<text x="857.65" y="343.00" font-size="7.49" font-weight="400" fill="#24292E" text-anchor="middle" stroke="#24292E" stroke-width="0.25" stroke-linejoin="round" >Ready Pods</text>
<g transform="translate(857.50,388.60) scale(1.08,1)"><text x="0" y="0" font-size="37.5" font-weight="400" fill="#56A64B" text-anchor="middle" stroke="#56A64B" stroke-width="0.9" stroke-linejoin="round" >23</text></g>
<rect x="823.30" y="408.80" width="68.70" height="70.10" rx="2" fill="#FFFFFF" stroke="#E6E8E9" stroke-width="0.9"/>
<text x="857.65" y="419.00" font-size="7.49" font-weight="400" fill="#24292E" text-anchor="middle" stroke="#24292E" stroke-width="0.25" stroke-linejoin="round" >Starting Pods</text>
<text x="857.60" y="465.30" font-size="37.6" font-weight="400" fill="#F6D414" text-anchor="middle" stroke="#F6D414" stroke-width="0.9" stroke-linejoin="round" >2</text>
</svg>
</body></html>
